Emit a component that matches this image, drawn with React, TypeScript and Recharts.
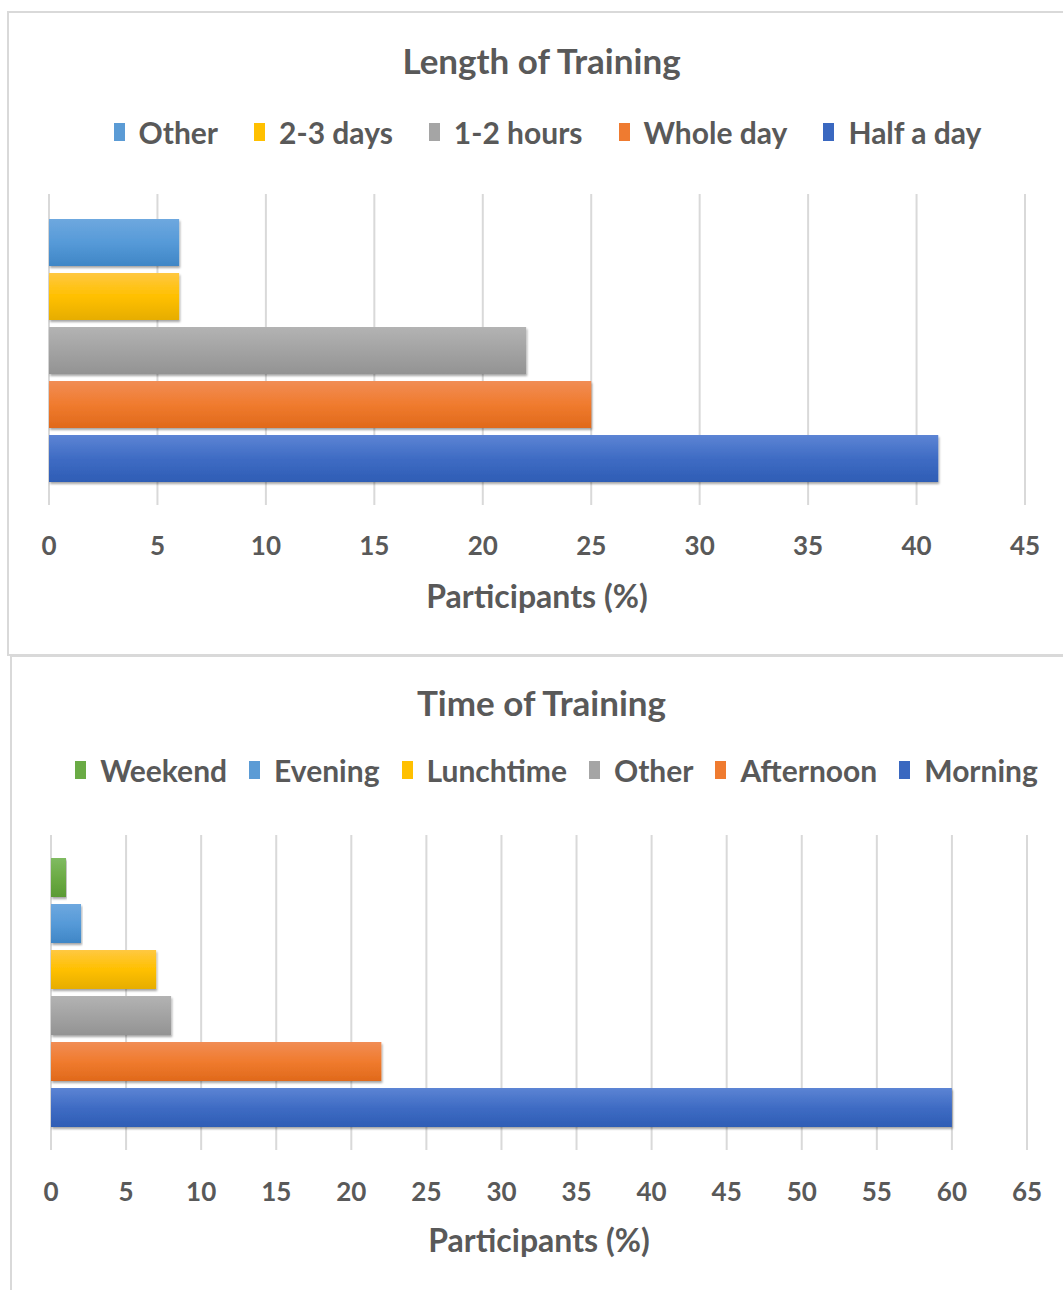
import { BarChart, Bar, XAxis, YAxis, CartesianGrid, Legend, Label } from 'recharts';

// Length of Training (top chart), series listed top bar first
const lengthSeries = ['Other', '2-3 days', '1-2 hours', 'Whole day', 'Half a day'];
const lengthValues = [6, 6, 22, 25, 41];
const lengthTicks = [0, 5, 10, 15, 20, 25, 30, 35, 40, 45];

// Time of Training (bottom chart)
const timeSeries = ['Weekend', 'Evening', 'Lunchtime', 'Other', 'Afternoon', 'Morning'];
const timeValues = [1, 2, 7, 8, 22, 60];
const timeTicks = [0, 5, 10, 15, 20, 25, 30, 35, 40, 45, 50, 55, 60, 65];

const lengthPalette = ['ltblue', 'yellow', 'gray', 'orange', 'blue'];
const timePalette = ['green', 'ltblue', 'yellow', 'gray', 'orange', 'blue'];

const gradients: Record<string, [string, string, string]> = {
  blue: ['#5c84d4', '#3f6cc4', '#2e5db5'],
  orange: ['#f18d55', '#f07b2e', '#e0691b'],
  gray: ['#b3b3b3', '#a3a3a3', '#939393'],
  yellow: ['#ffc842', '#ffc000', '#e6ad00'],
  ltblue: ['#6ea8df', '#569ad8', '#3f86c6'],
  green: ['#80bb62', '#6cab45', '#5a9a33'],
};
const swatch: Record<string, string> = {
  blue: '#3a68c0', orange: '#ef7b30', gray: '#a5a5a5', yellow: '#ffc000', ltblue: '#5b9bd5', green: '#6aab45',
};

const FONT = 'Lato, "Open Sans", sans-serif';
const TEXT = '#595959';

// legend drawn in series order (recharts sorts the payload by name otherwise)
function LegendRow({ series, palette, gap, shift }: any) {
  return (
    <div style={{ display: 'flex', justifyContent: 'center', alignItems: 'center', fontFamily: FONT, fontWeight: 700, fontSize: 30, lineHeight: '36px', color: TEXT, paddingLeft: shift }}>
      {series.map((s: string, i: number) => (
        <div key={s} style={{ display: 'flex', alignItems: 'center', marginLeft: i === 0 ? 0 : gap }}>
          <span style={{ width: 11, height: 18, background: swatch[palette[i]], marginRight: 14, display: 'inline-block' }} />
          <span>{s}</span>
        </div>
      ))}
    </div>
  );
}

function TrainingPanel(props: any) {
  const { top, height, box, title, titleTop, legendTop, legendGap, legendShift, series, values, ticks, palette, margin, catGap, barGap, tickMargin, labelOffset, prefix } = props;
  const row: any = { name: title };
  series.forEach((s: string, i: number) => { row['s' + i] = values[i]; });
  return (
    <div style={{ position: 'absolute', left: 0, top, width: 1063, height }}>
      <div style={{ position: 'absolute', ...box, border: '2px solid #d9d9d9', boxSizing: 'border-box' }} />
      <div style={{ position: 'absolute', left: 0, width: 1063, top: titleTop, height: 44, lineHeight: '44px', textAlign: 'center', fontFamily: FONT, fontWeight: 700, fontSize: 35, color: TEXT, paddingLeft: 20, boxSizing: 'border-box' }}>
        {title}
      </div>
      <BarChart width={1063} height={height} data={[row]} layout="vertical" margin={margin} barCategoryGap={catGap} barGap={barGap}>
        <defs>
          {Object.keys(gradients).map((k) => (
            <linearGradient key={k} id={`${prefix}-${k}`} x1="0" y1="0" x2="0" y2="1">
              <stop offset="0%" stopColor={gradients[k][0]} />
              <stop offset="50%" stopColor={gradients[k][1]} />
              <stop offset="100%" stopColor={gradients[k][2]} />
            </linearGradient>
          ))}
          <filter id={`${prefix}-shadow`} x="-5%" y="-20%" width="110%" height="150%">
            <feDropShadow dx="1" dy="2" stdDeviation="1.2" floodColor="#000" floodOpacity="0.35" />
          </filter>
        </defs>
        <CartesianGrid horizontal={false} stroke="#d9d9d9" strokeWidth={2} />
        <XAxis
          type="number"
          domain={[ticks[0], ticks[ticks.length - 1]]}
          ticks={ticks}
          interval={0}
          axisLine={false}
          tickLine={false}
          tickMargin={tickMargin}
          height={100}
          tick={{ fill: TEXT, fontFamily: FONT, fontWeight: 700, fontSize: 26 }}
        >
          <Label value="Participants (%)" position="insideTop" offset={labelOffset} fill={TEXT} style={{ fontFamily: FONT, fontWeight: 700, fontSize: 32 }} />
        </XAxis>
        <YAxis type="category" dataKey="name" hide />
        <Legend
          verticalAlign="middle"
          align="center"
          wrapperStyle={{ top: legendTop, left: 0, width: 1063 }}
          content={() => <LegendRow series={series} palette={palette} gap={legendGap} shift={legendShift} />}
        />
        {series.map((s: string, i: number) => (
          <Bar
            key={s}
            dataKey={'s' + i}
            name={s}
            fill={`url(#${prefix}-${palette[i]})`}
            filter={`url(#${prefix}-shadow)`}
            isAnimationActive={false}
            legendType="square"
          />
        ))}
      </BarChart>
    </div>
  );
}

export default function App() {
  return (
    <div style={{ position: 'absolute', left: 0, top: 0, width: 1063, height: 1290, overflow: 'hidden', background: '#fff' }}>
      <TrainingPanel
        prefix="len"
        top={0}
        height={655}
        box={{ left: 7, top: 11, width: 1080, height: 645 }}
        title="Length of Training"
        titleTop={38}
        legendTop={114}
        legendGap={36}
        legendShift={32}
        series={lengthSeries}
        values={lengthValues}
        ticks={lengthTicks}
        palette={lengthPalette}
        margin={{ top: 194, right: 38, bottom: 50, left: 49 }}
        catGap={25}
        barGap={7}
        tickMargin={26}
        labelOffset={80}
      />
      <TrainingPanel
        prefix="time"
        top={655}
        height={635}
        box={{ left: 10, top: 0, width: 1080, height: 660 }}
        title="Time of Training"
        titleTop={25}
        legendTop={97}
        legendGap={22}
        legendShift={50}
        series={timeSeries}
        values={timeValues}
        ticks={timeTicks}
        palette={timePalette}
        margin={{ top: 180, right: 36, bottom: 40, left: 51 }}
        catGap={23}
        barGap={7}
        tickMargin={27}
        labelOffset={79}
      />
    </div>
  );
}
